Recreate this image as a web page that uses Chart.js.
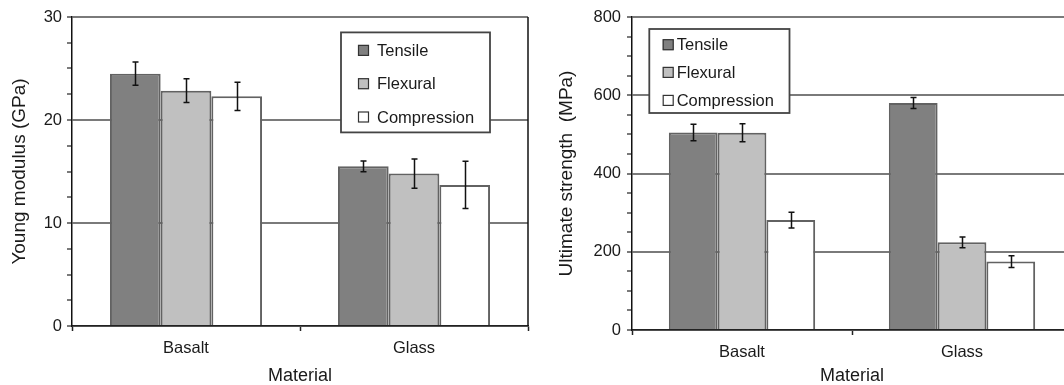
<!DOCTYPE html>
<html>
<head>
<meta charset="utf-8">
<script src="https://cdn.jsdelivr.net/npm/chart.js@4.4.1/dist/chart.umd.min.js"></script>
<style>
  html, body { margin: 0; padding: 0; background: #fff; }
  #wrap { position: relative; width: 1064px; height: 385px; overflow: hidden; }
  #left { position: absolute; left: 0; top: 0; }
  #right { position: absolute; left: 530px; top: 0; }
</style>
</head>
<body>
<div id="wrap">
  <canvas id="left" width="530" height="385" style="width:530px;height:385px"></canvas>
  <canvas id="right" width="544" height="385" style="width:544px;height:385px"></canvas>
</div>
<script>
// data
const materials = ['Basalt', 'Glass'];
const seriesNames = ['Tensile', 'Flexural', 'Compression'];
const seriesColors = ['#808080', '#c0c0c0', '#ffffff'];

// Young modulus (GPa)
const modulusTensile = [24.5, 15.5];
const modulusFlexural = [22.85, 14.8];
const modulusCompression = [22.3, 13.7];
const modulusTensileErr = [1.13, 0.53];
const modulusFlexuralErr = [1.15, 1.42];
const modulusCompressionErr = [1.37, 2.3];
const modulusTicks = [0, 10, 20, 30];

// Ultimate strength (MPa)
const strengthTensile = [505, 580];
const strengthFlexural = [504, 224];
const strengthCompression = [281, 175];
const strengthTensileErr = [21, 14];
const strengthFlexuralErr = [23, 13.5];
const strengthCompressionErr = [20, 15];
const strengthTicks = [0, 200, 400, 600, 800];

const FONT = '"Liberation Sans", Arial, Helvetica, sans-serif';
const TEXT = '#1a1a1a';
Chart.defaults.font.family = FONT;
Chart.defaults.color = TEXT;

// error bars on top of each bar
const errorBars = {
  id: 'errorBars',
  afterDatasetsDraw(chart) {
    const ctx = chart.ctx;
    const y = chart.scales.y;
    ctx.save();
    ctx.strokeStyle = '#111';
    ctx.lineWidth = 1.5;
    chart.data.datasets.forEach((ds, i) => {
      const meta = chart.getDatasetMeta(i);
      meta.data.forEach((bar, j) => {
        const v = ds.data[j], e = ds.errors[j];
        const t = y.getPixelForValue(v + e), b = y.getPixelForValue(v - e);
        const x = Math.round(bar.x) + 0.5;
        ctx.beginPath();
        ctx.moveTo(x, t); ctx.lineTo(x, b);
        ctx.moveTo(x - 3, t); ctx.lineTo(x + 3, t);
        ctx.moveTo(x - 3, b); ctx.lineTo(x + 3, b);
        ctx.stroke();
      });
    });
    ctx.restore();
  }
};

// boxed legend inside the plot + right frame line
const boxLegend = {
  id: 'boxLegend',
  afterDraw(chart, args, o) {
    const ctx = chart.ctx;
    const a = chart.chartArea;
    ctx.save();
    if (o.frame) {
      ctx.strokeStyle = '#111';
      ctx.lineWidth = 1.5;
      ctx.beginPath();
      ctx.moveTo(a.right, a.top);
      ctx.lineTo(a.right, a.bottom);
      ctx.stroke();
    }
    const [x0, y0, x1, y1] = o.box;
    ctx.fillStyle = '#fff';
    ctx.fillRect(a.left + x0, a.top + y0, x1 - x0, y1 - y0);
    ctx.strokeStyle = '#444';
    ctx.lineWidth = 1.8;
    ctx.strokeRect(a.left + x0, a.top + y0, x1 - x0, y1 - y0);
    ctx.font = o.fontSize + 'px ' + FONT;
    ctx.textBaseline = 'middle';
    ctx.textAlign = 'left';
    chart.data.datasets.forEach((ds, i) => {
      const cy = a.top + o.rows[i];
      ctx.fillStyle = ds.backgroundColor;
      ctx.fillRect(a.left + o.sq, cy - 5.5, 11, 11);
      ctx.strokeStyle = '#333';
      ctx.lineWidth = 1.2;
      ctx.strokeRect(a.left + o.sq + 0.5, cy - 5, 10, 10);
      ctx.fillStyle = TEXT;
      ctx.fillText(ds.label, a.left + o.tx, cy + 1);
    });
    ctx.restore();
  }
};

function makeChart(id, cfg) {
  const datasets = cfg.values.map((vals, i) => ({
    label: seriesNames[i],
    data: vals,
    errors: cfg.errors[i],
    backgroundColor: seriesColors[i],
    borderColor: '#626262',
    borderWidth: 2,
    categoryPercentage: cfg.catPct,
    barPercentage: 1.0
  }));
  return new Chart(document.getElementById(id), {
    type: 'bar',
    data: { labels: materials, datasets: datasets },
    plugins: [errorBars, boxLegend],
    options: {
      responsive: false,
      animation: false,
      devicePixelRatio: 1,
      layout: { padding: { top: 17, right: 2, left: 0, bottom: 0 } },
      plugins: {
        legend: { display: false },
        tooltip: { enabled: false },
        boxLegend: cfg.legend
      },
      scales: {
        x: {
          afterFit(s) { s.height = cfg.xHeight; },
          grid: { offset: true, drawOnChartArea: false, tickLength: 5, tickColor: '#222', tickWidth: 1.5 },
          border: { color: '#222', width: 1.5 },
          ticks: { font: { size: 16.5 }, color: TEXT, padding: 8 },
          title: { display: true, text: 'Material', font: { size: 18 }, color: TEXT, padding: { top: 0, bottom: -2 } }
        },
        y: {
          min: 0,
          max: cfg.max,
          afterFit(s) { s.width = cfg.yWidth; },
          grid: {
            color: c => (c.tick && cfg.ticks.includes(c.tick.value)) ? '#7a7a7a' : 'rgba(0,0,0,0)',
            lineWidth: 2,
            tickLength: 5,
            tickColor: '#222',
            tickWidth: 1.2
          },
          border: { color: '#111', width: 1.5 },
          ticks: {
            stepSize: cfg.step,
            autoSkip: false,
            font: { size: 16.5 },
            color: TEXT,
            padding: cfg.tickPad,
            callback: v => cfg.ticks.includes(v) ? String(v) : ''
          },
          title: { display: true, text: cfg.title, font: { size: 19 }, color: TEXT, padding: { top: cfg.titlePad, bottom: 0 } }
        }
      }
    }
  });
}

makeChart('left', {
  values: [modulusTensile, modulusFlexural, modulusCompression],
  errors: [modulusTensileErr, modulusFlexuralErr, modulusCompressionErr],
  ticks: modulusTicks,
  max: 30, step: 2.5,
  title: 'Young modulus (GPa)',
  catPct: 0.667,
  yWidth: 72, xHeight: 59, tickPad: 5, titlePad: 8.6,
  legend: { frame: true, box: [269, 15.4, 418, 115.4], rows: [33.4, 66.7, 100], sq: 286, tx: 305, fontSize: 16.5 }
});

makeChart('right', {
  values: [strengthTensile, strengthFlexural, strengthCompression],
  errors: [strengthTensileErr, strengthFlexuralErr, strengthCompressionErr],
  ticks: strengthTicks,
  max: 800, step: 50,
  title: 'Ultimate strength  (MPa)',
  catPct: 0.665,
  yWidth: 102, xHeight: 55, tickPad: 6, titlePad: 25.6,
  legend: { frame: false, box: [17.3, 12, 157.5, 96], rows: [27.7, 55.4, 83.4], sq: 30.7, tx: 44.7, fontSize: 16.5 }
});
</script>
</body>
</html>
